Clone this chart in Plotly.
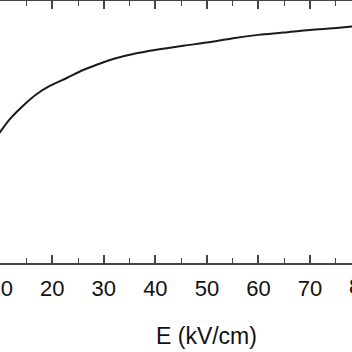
import plotly.graph_objects as go

# Data (E in kV/cm, y in arbitrary units)
E = [9.0, 9.85, 11.8, 14.7, 17.0, 19.6, 22.8, 26.0, 29.3, 32.5, 35.7, 39.9,
     45.4, 50.0, 55.1, 60.0, 64.8, 70.0, 74.5, 78.2, 79.0]
Y = [1.25, 1.313, 1.447, 1.597, 1.697, 1.78, 1.857, 1.937, 2.003, 2.057, 2.097,
     2.137, 2.18, 2.213, 2.257, 2.29, 2.313, 2.34, 2.357, 2.373, 2.377]

x_range = [9.85, 78.16]
y_range = [0, 2.63]
tick_vals = [10, 20, 30, 40, 50, 60, 70]
tick_text = ["10", "20", "30", "40", "50", "60", "70"]
x_title = "E (kV/cm)"
title_at = 50
cut_tick = 80

font = "Liberation Sans, Arial, Helvetica, sans-serif"
axis_col = "#444444"

fig = go.Figure()
fig.add_trace(go.Scatter(x=E, y=Y, mode="lines", line_shape="spline",
                         line=dict(color="#1a1a1a", width=2), showlegend=False))

fig.update_layout(
    width=352, height=352,
    margin=dict(l=0, r=0, t=1, b=89, autoexpand=False),
    paper_bgcolor="white", plot_bgcolor="white",
    xaxis=dict(range=x_range, tickvals=tick_vals, ticktext=tick_text,
               ticks="inside", ticklen=8, tickwidth=1.5, tickcolor=axis_col,
               showline=True, linecolor=axis_col, linewidth=2, mirror="ticks",
               showgrid=False, zeroline=False, ticklabeloverflow="allow",
               automargin=False,
               tickfont=dict(family=font, size=22, color="#111111"),
               minor=dict(ticks="inside", ticklen=5, tickwidth=1.2, tickcolor=axis_col,
                          dtick=5, tick0=0, showgrid=False),
               ticklabelstandoff=5),
    yaxis=dict(range=y_range, visible=False, automargin=False),
    annotations=[
        dict(text=x_title, xref="x", yref="paper", x=title_at, y=-0.22,
             xanchor="center", yanchor="top", showarrow=False,
             font=dict(family=font, size=23, color="#111111")),
        dict(text=str(cut_tick), xref="paper", yref="paper",
             x=(cut_tick - x_range[0]) / (x_range[1] - x_range[0]), y=-0.035,
             xanchor="center", yanchor="top", showarrow=False,
             font=dict(family=font, size=22, color="#111111")),
    ],
)

fig.write_html("out.html")
